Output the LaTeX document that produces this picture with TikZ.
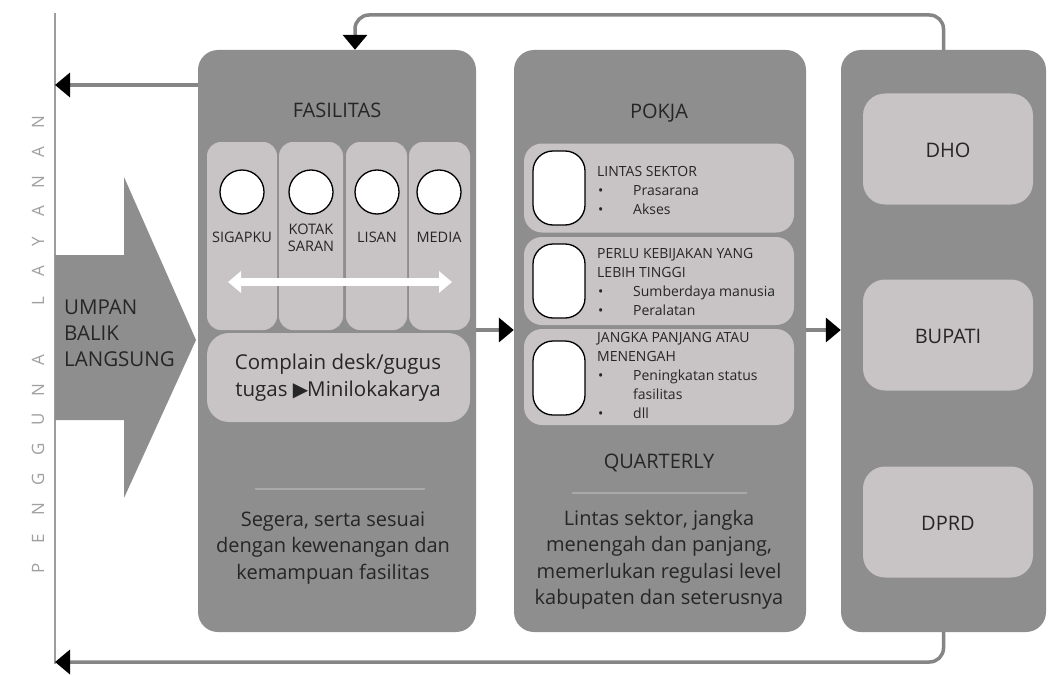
\documentclass[tikz,border=0pt]{standalone}
\usepackage{fontspec}
\setmainfont{Open Sans}
\newfontfamily\dejavu{DejaVu Sans}
\usetikzlibrary{arrows.meta}
\definecolor{boxgray}{HTML}{8E8E8E}
\definecolor{lightbox}{HTML}{C8C3C5}
\definecolor{linegray}{HTML}{858585}
\definecolor{txt}{HTML}{262626}
\definecolor{vlab}{HTML}{A0A0A0}
\definecolor{sepline}{HTML}{A9A9A9}
\newcommand{\fs}[2]{\fontsize{#1}{#2}\selectfont}
\begin{document}
\begin{tikzpicture}[x=1pt,y=-1pt,
  panel/.style={draw=none,fill=boxgray,rounded corners=20pt,inner sep=0pt},
  lbox/.style={draw=none,fill=lightbox,rounded corners=14pt,inner sep=0pt},
  wcirc/.style={circle,draw=black,line width=1.3pt,fill=white,minimum size=44pt,inner sep=0pt},
  wrect/.style={draw=black,line width=1.3pt,fill=white,rounded corners=20pt,minimum width=52pt,minimum height=74pt,inner sep=0pt},
  conn/.style={draw=linegray,line width=3.5pt},
  tip/.style={-{Triangle[length=15pt,width=24pt,color=black]}},
  title/.style={text=txt,font=\fs{20}{24}},
  collab/.style={text=txt,font=\fs{14.5}{16.5},align=center},
  body/.style={text=txt,font=\fs{20}{26.5},align=center},
  rowtxt/.style={text=txt,font=\fs{14}{19},align=left,anchor=west,inner sep=0pt},
  sep/.style={draw=sepline,line width=1.5pt}
]
\useasboundingbox (0,0) rectangle (1048,674);
\fill[white] (0,0) rectangle (1048,674);

% vertical axis line and label
\coordinate (vtop) at (55,13);
\coordinate (vbot) at (55,664);
\draw[draw=linegray!80,line width=2pt] (vtop) -- (vbot);
\foreach \ch [count=\i from 0] in {P,E,N,G,G,U,N,A,{},L,A,Y,A,N,A,N}{
  \node[rotate=90,text=vlab,font=\fs{17}{18}] (pl\i) at (38,{568-\i*29.7}) {\ch};
}

% big block arrow
\fill[boxgray] (55,255) -- (124,255) -- (124,177) -- (196,340) -- (124,498) -- (124,420) -- (55,420) -- cycle;
\node[text=txt,font=\fs{20.5}{26},align=left,anchor=west,inner sep=0pt] (umpan) at (64,333) {UMPAN\\BALIK\\LANGSUNG};

% panels
\node[panel,minimum width=278pt,minimum height=582pt] (fas) at (337,341) {};
\node[panel,minimum width=292pt,minimum height=582pt] (pk) at (660,341) {};
\node[panel,minimum width=205pt,minimum height=582pt] (rb) at (943.5,341) {};

% ---- FASILITAS ----
\node[title] (fastitle) at (337,110) {FASILITAS};
\node[lbox,minimum width=70pt,minimum height=188pt] (c1) at (242,236) {};
\node[lbox,minimum width=64pt,minimum height=188pt] (c2) at (311,236) {};
\node[lbox,minimum width=61pt,minimum height=188pt] (c3) at (376.5,236) {};
\node[lbox,minimum width=61pt,minimum height=188pt] (c4) at (439.5,236) {};
\node[wcirc] (o1) at (242,192) {};
\node[wcirc] (o2) at (311,192) {};
\node[wcirc] (o3) at (377,192) {};
\node[wcirc] (o4) at (439,192) {};
\node[collab] (l1) at (242,237) {SIGAPKU};
\node[collab] (l2) at (311,238) {KOTAK\\SARAN};
\node[collab] (l3) at (377,237) {LISAN};
\node[collab] (l4) at (439,237) {MEDIA};
\coordinate (da1) at (228,282);
\coordinate (da2) at (452,282);
\draw[white,line width=8pt,{Triangle[length=13pt,width=21pt]}-{Triangle[length=13pt,width=21pt]}] (da1) -- (da2);
\node[lbox,minimum width=263pt,minimum height=89pt,rounded corners=22pt] (cdesk) at (338.5,377.5) {};
\node[text=txt,font=\fs{20.5}{27},align=center] (cdtxt) at (338,378) {Complain desk/gugus\\tugas {\dejavu\fs{20}{27}▶}\hspace{-1pt}Minilokakarya};
\coordinate (s1a) at (255,489);
\coordinate (s1b) at (425,489);
\draw[sep] (s1a) -- (s1b);
\node[body] (fastxt) at (333,548) {Segera, serta sesuai\\dengan kewenangan dan\\kemampuan fasilitas};

% ---- POKJA ----
\node[title] (pktitle) at (659,113) {POKJA};
\node[lbox,minimum width=270pt,minimum height=89pt,rounded corners=18pt] (r1) at (659,188) {};
\node[lbox,minimum width=270pt,minimum height=88pt,rounded corners=18pt] (r2) at (659,281) {};
\node[lbox,minimum width=270pt,minimum height=96pt,rounded corners=18pt] (r3) at (659,377) {};
\node[wrect] (w1) at (559,188) {};
\node[wrect] (w2) at (559,281) {};
\node[wrect] (w3) at (559,378) {};
\node[rowtxt] (t1) at (597,190) {LINTAS SEKTOR\\\makebox[36pt][l]{\hspace{1pt}•}Prasarana\\\makebox[36pt][l]{\hspace{1pt}•}Akses};
\node[rowtxt] (t2) at (597,282) {PERLU KEBIJAKAN YANG\\LEBIH TINGGI\\\makebox[36pt][l]{\hspace{1pt}•}Sumberdaya manusia\\\makebox[36pt][l]{\hspace{1pt}•}Peralatan};
\node[rowtxt] (t3) at (597,375) {JANGKA PANJANG ATAU\\MENENGAH\\\makebox[36pt][l]{\hspace{1pt}•}Peningkatan status\\\hspace*{36pt}fasilitas\\\makebox[36pt][l]{\hspace{1pt}•}dll};
\node[title] (qtitle) at (659,463) {QUARTERLY};
\coordinate (s2a) at (572,493);
\coordinate (s2b) at (747,493);
\draw[sep] (s2a) -- (s2b);
\node[body] (pktxt) at (659,560) {Lintas sektor, jangka\\menengah dan panjang,\\memerlukan regulasi level\\kabupaten dan seterusnya};

% ---- right panel ----
\node[lbox,minimum width=170pt,minimum height=111pt,rounded corners=22pt] (dho) at (948,149) {};
\node[lbox,minimum width=170pt,minimum height=111pt,rounded corners=22pt] (bup) at (948,335) {};
\node[lbox,minimum width=170pt,minimum height=111pt,rounded corners=22pt] (dprd) at (948,522) {};
\node[title] (dhot) at (948,150) {DHO};
\node[title] (bupt) at (948,336) {BUPATI};
\node[title] (dprdt) at (948,523) {DPRD};

% ---- connectors ----
\coordinate (lhit) at (55,85);
\draw[conn,tip] (fas.west |- lhit) -- (lhit);
\draw[conn,tip] (fas.east |- 0,330) -- (pk.west |- 0,330);
\draw[conn,tip] (pk.east |- 0,330) -- (rb.west |- 0,330);
\coordinate (tc) at (355,15);
\draw[conn,tip,rounded corners=14pt] (rb.north) |- (tc) -- (tc |- fas.north);
\coordinate (bc) at (55,662);
\draw[conn,tip,rounded corners=14pt] (rb.south) |- (bc);
\end{tikzpicture}
\end{document}
